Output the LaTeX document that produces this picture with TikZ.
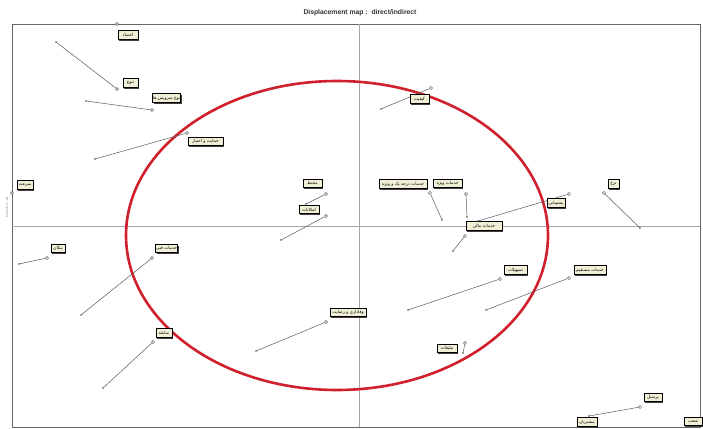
\documentclass[tikz,border=0pt]{standalone}
\usepackage{fontspec}
\setmainfont{Liberation Sans}
\newfontfamily\arabicfont[Script=Arabic]{DejaVu Sans}
\TeXXeTstate=1
\usetikzlibrary{shadows}
\definecolor{ellred}{HTML}{D0202C}
\definecolor{lblfill}{HTML}{F1F0D6}
\definecolor{lnk}{HTML}{5A5A5A}
\tikzset{
  lbl/.style={draw=black, line width=0.7pt, fill=lblfill, minimum height=8.5pt, inner sep=0.6pt,
    font=\arabicfont\fontsize{4.3}{5}\selectfont,
    drop shadow={shadow xshift=1.3pt, shadow yshift=-1.3pt, fill=black!75, opacity=1}},
  endpt/.style={circle, draw=lnk, line width=0.5pt, fill=white, inner sep=0pt, minimum size=3.2pt},
  link/.style={draw=lnk, line width=0.5pt},
  startdot/.style={fill=lnk},
  axisline/.style={draw=black!35, line width=0.5pt},
}
\newcommand{\dmpoint}[6]{%
  \coordinate (s#1) at (#2);
  \node[endpt] (e#1) at (#3) {};
  \draw[link] (s#1) -- (e#1);
  \fill[startdot] (s#1) circle (0.9pt);
  \node[lbl, minimum width=#5pt] (l#1) at (#4) {#6};
}
\begin{document}
\begin{tikzpicture}[x=1pt, y=-1pt]
\useasboundingbox[fill=white] (0,0) rectangle (703,428);
% title
\node[font=\bfseries\fontsize{6.8}{8}\selectfont, text=black!80] (title) at (360,13) {Displacement map :\ \ direct/indirect};
% frame
\draw[draw=black!60, line width=0.8pt] (12,24) rectangle (700,427);
% axes
\draw[axisline] (359,24) -- (359,427);
\draw[axisline] (12,226) -- (700,226);
% axis caption
\node[rotate=90, font=\fontsize{2.5}{3}\selectfont, text=black!60] (ycap) at (7,207) {Dimension 1 - axe};
% ellipse
\draw[ellred, line width=2.6pt] (337,235.5) ellipse [x radius=211, y radius=154.5];
% points
\node[endpt] (e1) at (117,24) {};
\node[lbl, minimum width=20pt] (l1) at (128,35) {\beginR اعتماد\endR};
\dmpoint{2}{56,42}{117,89}{130.5,83}{15}{\beginR تنوع\endR}
\dmpoint{3}{86,101}{152,110}{166.5,98}{27}{\beginR نوع سرویس ها\endR}
\dmpoint{4}{95,159}{187,133}{205.5,141.5}{35}{\beginR حمایت و اعتبار\endR}
\dmpoint{5}{381,109}{431,88}{419.5,99}{19}{\beginR کیفیت\endR}
\node[endpt] (e6) at (12,193) {};
\node[lbl, minimum width=16pt] (l6) at (25,185) {\beginR سرعت\endR};
\dmpoint{7}{19,264}{47,258}{58,248.5}{14}{\beginR مکان\endR}
\dmpoint{8}{81,315}{152,258}{166.5,248.5}{21}{\beginR خدمات فنی\endR}
\dmpoint{9}{103,388}{153,342}{164,333}{16}{\beginR سابقه\endR}
\dmpoint{10}{306,204}{326,194}{312.5,183.5}{19}{\beginR محیط\endR}
\dmpoint{11}{281,240}{326,216}{309,209.5}{20}{\beginR امکانات\endR}
\dmpoint{12}{442,220}{430,193}{403,184}{48}{\beginR خدمات درجه یک و ویژه\endR}
\dmpoint{13}{467,217}{466,194}{447.5,183.5}{29}{\beginR خدمات ویژه\endR}
\dmpoint{14}{453,251}{465,236}{484,226}{36}{\beginR خدمات مالی\endR}
\dmpoint{15}{478,221}{569,194}{556,203}{18}{\beginR پشتیبانی\endR}
\dmpoint{16}{640,228}{604,193}{613.5,184}{11}{\beginR نرخ\endR}
\dmpoint{17}{408,310}{500,279}{515.5,270}{23}{\beginR تسهیلات\endR}
\dmpoint{18}{486,310}{569,278}{590,270}{32}{\beginR خدمات مستقیم\endR}
\dmpoint{19}{256,351}{326,322}{348,312.5}{36}{\beginR وفاداری و رضایت\endR}
\dmpoint{20}{463,353}{465,343}{447,348.5}{20}{\beginR تبلیغات\endR}
\dmpoint{21}{589,416}{640,407}{653,397.5}{18}{\beginR پرسنل\endR}
\node[lbl, minimum width=20pt] (l22) at (587,422) {\beginR مشتریان\endR};
\node[lbl, minimum width=18pt] (l23) at (693,421.5) {\beginR شعب\endR};
\end{tikzpicture}
\end{document}
